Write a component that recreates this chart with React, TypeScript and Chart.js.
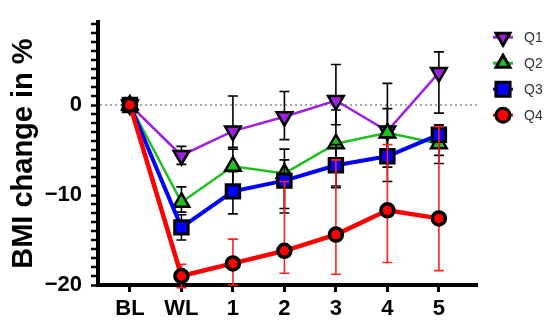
import React, { useEffect, useRef } from 'react';
import { Chart, registerables } from 'chart.js';
import { drawPoint } from 'chart.js/helpers';

Chart.register(...registerables);

const categories = ['BL', 'WL', '1', '2', '3', '4', '5'];
const seriesNames = ['Q1', 'Q2', 'Q3', 'Q4'];

const q1 = [0, -5.6, -2.9, -1.3, 0.5, -2.9, 3.6];
const q1Low = [0, -6.6, -4.7, -3.85, -2.2, -4.9, -0.9];
const q1High = [0, -4.6, 1.0, 1.5, 4.5, 2.4, 5.9];

const q2 = [0, -10.8, -6.8, -7.6, -4.3, -3.1, -4.3];
const q2Low = [0, -11.9, -9.0, -12.0, -9.0, -6.9, -6.5];
const q2High = [0, -9.1, -4.9, -4.9, -0.55, -0.4, -2.2];

const q3 = [0, -13.6, -9.6, -8.4, -6.7, -5.7, -3.3];
const q3Low = [0, -15.0, -12.1, -11.5, -9.2, -8.5, -5.6];
const q3High = [0, -12.2, -7.4, -6.1, -4.4, -3.6, -2.3];

const q4 = [0, -19.0, -17.6, -16.2, -14.4, -11.7, -12.6];
const q4Low = [0, -20.3, -20.0, -18.7, -18.8, -17.5, -18.4];
const q4High = [0, -17.7, -14.9, -8.5, -6.1, -4.4, -2.4];

const yMajorTicks = [-20, -10, 0];
const yMinorTicks = [-19, -18, -17, -16, -15, -14, -13, -12, -11, -9, -8, -7, -6, -5, -4, -3, -2, -1, 1, 2, 3, 4, 5, 6, 7, 8, 9];
const xTickValues = [0, 1, 2, 3, 4, 5, 6];

const FONT = "'Liberation Sans', Arial, sans-serif";

const errorBarPlugin = {
  id: 'errorBars',
  beforeDatasetDraw(chart: any, args: any) {
    const ds = chart.data.datasets[args.index];
    const meta = args.meta;
    const ys = chart.scales.y;
    const ctx = chart.ctx;
    ctx.save();
    ctx.strokeStyle = ds.errColor;
    ctx.lineWidth = 1.6;
    meta.data.forEach((pt: any, i: number) => {
      const lo = ds.errLow[i];
      const hi = ds.errHigh[i];
      if (lo === hi) return;
      const x = pt.x;
      const yl = ys.getPixelForValue(lo);
      const yh = ys.getPixelForValue(hi);
      ctx.beginPath();
      ctx.moveTo(x, yl);
      ctx.lineTo(x, yh);
      ctx.moveTo(x - 5, yl);
      ctx.lineTo(x + 5, yl);
      ctx.moveTo(x - 5, yh);
      ctx.lineTo(x + 5, yh);
      ctx.stroke();
    });
    ctx.restore();
  },
};

const decorPlugin = {
  id: 'decor',
  beforeDatasetsDraw(chart: any) {
    const { ctx, chartArea } = chart;
    const ys = chart.scales.y;
    const y0 = ys.getPixelForValue(0);
    ctx.save();
    ctx.strokeStyle = '#555';
    ctx.lineWidth = 1.2;
    ctx.setLineDash([2, 3]);
    ctx.beginPath();
    ctx.moveTo(chartArea.left + 2, y0);
    ctx.lineTo(chartArea.right, y0);
    ctx.stroke();
    ctx.setLineDash([]);
    ctx.strokeStyle = '#000';
    ctx.lineWidth = 2.5;
    yMinorTicks.forEach((v) => {
      const y = ys.getPixelForValue(v);
      ctx.beginPath();
      ctx.moveTo(chartArea.left - 7, y);
      ctx.lineTo(chartArea.left, y);
      ctx.stroke();
    });
    ctx.restore();
  },
  afterDraw(chart: any) {
    const { ctx, chartArea } = chart;
    ctx.save();
    chart.data.datasets
      .slice()
      .sort((a: any, b: any) => a.legendIndex - b.legendIndex)
      .forEach((ds: any, i: number) => {
        const mx = chartArea.right + 26;
        const my = chartArea.top + 15 + i * 26;
        ctx.strokeStyle = ds.borderColor;
        ctx.lineWidth = 3;
        ctx.beginPath();
        ctx.moveTo(mx - 10, my);
        ctx.lineTo(mx + 10, my);
        ctx.stroke();
        ctx.fillStyle = ds.pointBackgroundColor;
        ctx.strokeStyle = '#000';
        ctx.lineWidth = 3;
        drawPoint(ctx, {
          pointStyle: ds.pointStyle,
          rotation: ds.pointRotation || 0,
          radius: ds.legendRadius,
          borderWidth: 3,
        } as any, mx, my);
        ctx.fillStyle = '#333';
        ctx.font = `14px ${FONT}`;
        ctx.textAlign = 'left';
        ctx.textBaseline = 'middle';
        ctx.fillText(ds.label, mx + 21, my + 1);
      });
    ctx.restore();
  },
};

function toPoints(vals: number[]) {
  return vals.map((v, i) => ({ x: i, y: v }));
}

export default function App() {
  const canvasRef = useRef<HTMLCanvasElement | null>(null);

  useEffect(() => {
    document.body.style.margin = '0';
    const canvas = canvasRef.current;
    if (!canvas) return;

    const datasets: any[] = [
      {
        label: seriesNames[0],
        legendIndex: 0,
        data: toPoints(q1),
        errLow: q1Low,
        errHigh: q1High,
        errColor: '#000',
        borderColor: '#a020e0',
        borderWidth: 2.5,
        pointStyle: 'triangle',
        pointRotation: 180,
        pointRadius: 9,
        legendRadius: 8,
        pointBackgroundColor: '#a020e0',
        pointBorderColor: '#000',
        pointBorderWidth: 2.5,
        order: 4,
      },
      {
        label: seriesNames[1],
        legendIndex: 1,
        data: toPoints(q2),
        errLow: q2Low,
        errHigh: q2High,
        errColor: '#000',
        borderColor: '#1fbf1f',
        borderWidth: 2.5,
        pointStyle: 'triangle',
        pointRotation: 0,
        pointRadius: 9,
        legendRadius: 8,
        pointBackgroundColor: '#1fbf1f',
        pointBorderColor: '#000',
        pointBorderWidth: 2.5,
        order: 3,
      },
      {
        label: seriesNames[2],
        legendIndex: 2,
        data: toPoints(q3),
        errLow: q3Low,
        errHigh: q3High,
        errColor: '#000',
        borderColor: '#0000ff',
        borderWidth: 4,
        pointStyle: 'rect',
        pointRotation: 0,
        pointRadius: 9.5,
        legendRadius: 10,
        pointBackgroundColor: '#0000ff',
        pointBorderColor: '#000',
        pointBorderWidth: 3,
        order: 2,
      },
      {
        label: seriesNames[3],
        legendIndex: 3,
        data: toPoints(q4),
        errLow: q4Low,
        errHigh: q4High,
        errColor: '#ff2020',
        borderColor: '#ff0000',
        borderWidth: 4.5,
        pointStyle: 'circle',
        pointRotation: 0,
        pointRadius: 6.5,
        legendRadius: 7,
        pointBackgroundColor: '#ff0000',
        pointBorderColor: '#000',
        pointBorderWidth: 3.5,
        order: 1,
      },
    ];

    const chart = new Chart(canvas, {
      type: 'line',
      data: { datasets },
      plugins: [errorBarPlugin, decorPlugin],
      options: {
        animation: false,
        responsive: true,
        maintainAspectRatio: false,
        layout: { padding: { top: 5, right: 73, left: 0, bottom: 0 } },
        plugins: {
          legend: { display: false },
          tooltip: { enabled: false },
        },
        elements: { line: { tension: 0 } },
        datasets: { line: { clip: false } } as any,
        scales: {
          x: {
            type: 'linear',
            min: -0.62,
            max: 6.74,
            afterFit: (s: any) => { s.height = 44; },
            afterBuildTicks: (s: any) => { s.ticks = xTickValues.map((v) => ({ value: v })); },
            ticks: {
              autoSkip: false,
              maxRotation: 0,
              padding: 4,
              color: '#000',
              font: { family: FONT, size: 22, weight: 'bold' },
              callback: (v: any) => categories[v] ?? '',
            },
            grid: {
              drawOnChartArea: false,
              drawTicks: true,
              tickLength: 7,
              tickWidth: 3,
              tickColor: '#000',
            },
            border: { display: true, color: '#000', width: 4 },
          },
          y: {
            type: 'linear',
            min: -20,
            max: 9.2,
            afterFit: (s: any) => { s.width = 98; },
            afterBuildTicks: (s: any) => { s.ticks = yMajorTicks.map((v) => ({ value: v })); },
            ticks: {
              autoSkip: false,
              padding: 9,
              color: '#000',
              font: { family: FONT, size: 22, weight: 'bold' },
              callback: (v: any) => (v < 0 ? '\u2212' + Math.abs(v) : String(v)),
            },
            grid: {
              drawOnChartArea: false,
              drawTicks: true,
              tickLength: 7,
              tickWidth: 2.5,
              tickColor: '#000',
            },
            border: { display: true, color: '#000', width: 4 },
            title: {
              display: true,
              text: 'BMI change in %',
              color: '#000',
              font: { family: FONT, size: 29, weight: 'bold' },
              padding: { top: 7, bottom: 0 },
            },
          },
        },
      },
    });

    return () => chart.destroy();
  }, []);

  return (
    <div style={{ position: 'relative', width: 550, height: 329 }}>
      <canvas ref={canvasRef} />
    </div>
  );
}
